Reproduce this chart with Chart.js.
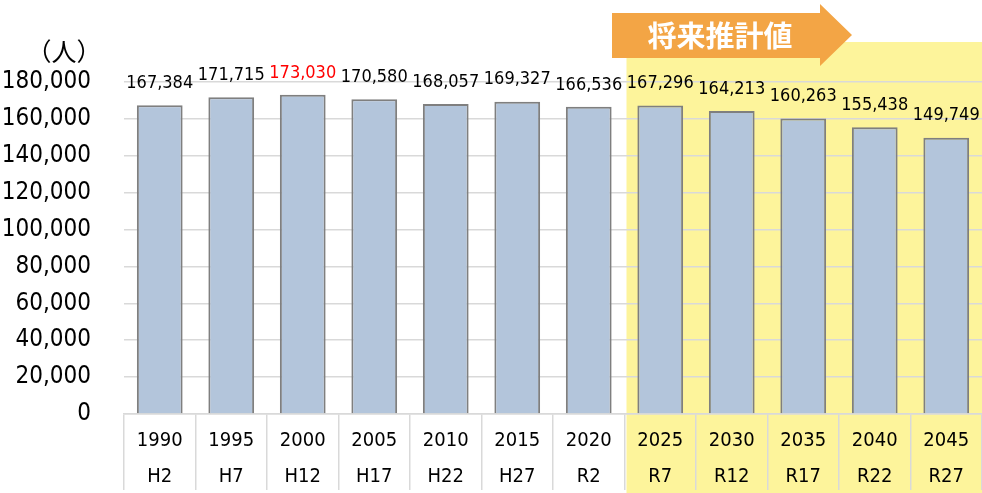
<!DOCTYPE html>
<html>
<head>
<meta charset="utf-8">
<script src="https://cdn.jsdelivr.net/npm/chart.js@4/dist/chart.umd.min.js"></script>
<style>
  html, body { margin: 0; padding: 0; background: #fff; }
  #wrap { width: 982px; height: 493px; position: relative; }
</style>
</head>
<body>
<div id="wrap"><canvas id="popChart" width="982" height="493"></canvas></div>
<script>
// 年（西暦・和暦）と人口
const years = ['1990', '1995', '2000', '2005', '2010', '2015', '2020', '2025', '2030', '2035', '2040', '2045'];
const eras = ['H2', 'H7', 'H12', 'H17', 'H22', 'H27', 'R2', 'R7', 'R12', 'R17', 'R22', 'R27'];
const population = [167384, 171715, 173030, 170580, 168057, 169327, 166536, 167296, 164213, 160263, 155438, 149749];
const peakIndex = 2;          // 最大値（赤字）
const forecastStart = 7;      // 将来推計値の開始位置

const FONT = "'DejaVu Sans Condensed', 'Liberation Sans Narrow', sans-serif";

// 将来推計値の背景と矢印
const forecastPlugin = {
    id: 'forecast',
    beforeDraw(chart) {
        const ctx = chart.ctx;
        const x = chart.scales.x;
        const left = (x.getPixelForValue(forecastStart - 1) + x.getPixelForValue(forecastStart)) / 2 + 2;
        ctx.save();
        ctx.fillStyle = '#fdf49b';
        ctx.fillRect(left, 42, chart.width - left, chart.height - 42);
        ctx.restore();
    },
    afterDraw(chart) {
        const ctx = chart.ctx;
        ctx.save();
        // 矢印
        ctx.fillStyle = '#f3a545';
        ctx.beginPath();
        ctx.moveTo(612, 13);
        ctx.lineTo(820, 13);
        ctx.lineTo(820, 4);
        ctx.lineTo(852, 35);
        ctx.lineTo(820, 66);
        ctx.lineTo(820, 58);
        ctx.lineTo(612, 58);
        ctx.closePath();
        ctx.fill();
        ctx.fillStyle = '#ffffff';
        ctx.font = "bold 29px 'Noto Sans CJK JP', sans-serif";
        ctx.textAlign = 'center';
        ctx.textBaseline = 'middle';
        ctx.fillText('将来推計値', 720, 36);
        // 単位
        ctx.fillStyle = '#000';
        ctx.font = "25px 'Noto Sans CJK JP', sans-serif";
        ctx.fillText('（人）', 64, 51);
        ctx.restore();
    }
};

// 棒の上の数値
const valueLabels = {
    id: 'valueLabels',
    afterDatasetsDraw(chart) {
        const ctx = chart.ctx;
        const meta = chart.getDatasetMeta(0);
        ctx.save();
        ctx.font = '18px ' + FONT;
        ctx.textAlign = 'center';
        ctx.textBaseline = 'middle';
        meta.data.forEach((bar, i) => {
            ctx.fillStyle = i === peakIndex ? '#ff0000' : '#000000';
            ctx.fillText(population[i].toLocaleString('en-US'), bar.x, bar.y - 22);
        });
        ctx.restore();
    }
};

new Chart(document.getElementById('popChart'), {
    type: 'bar',
    data: {
        labels: years.map((y, i) => [y, eras[i]]),
        datasets: [{
            data: population,
            backgroundColor: '#b3c5db',
            borderColor: '#7f7f7f',
            borderWidth: 2,
            categoryPercentage: 1,
            barPercentage: 0.64
        }]
    },
    options: {
        responsive: false,
        animation: false,
        layout: { padding: { top: 82, right: 0, left: 0, bottom: 0 } },
        plugins: {
            legend: { display: false },
            tooltip: { enabled: false }
        },
        scales: {
            x: {
                grid: {
                    offset: true,
                    drawOnChartArea: false,
                    drawTicks: true,
                    tickLength: 76,
                    color: '#d9d9d9',
                    lineWidth: 1.5
                },
                border: { color: '#d9d9d9', width: 1.5 },
                ticks: {
                    color: '#000',
                    padding: -67.5,
                    maxRotation: 0,
                    autoSkip: false,
                    font: { family: FONT, size: 20, lineHeight: 1.8 }
                },
                afterFit(scale) { scale.height = 79; }
            },
            y: {
                min: 0,
                max: 180000,
                grid: { color: '#d9d9d9', lineWidth: 1.5, drawTicks: false },
                border: { display: false },
                ticks: {
                    stepSize: 20000,
                    color: '#000',
                    padding: 33,
                    font: { family: FONT, size: 24 },
                    callback: v => v.toLocaleString('en-US')
                },
                afterFit(scale) { scale.width = 124; }
            }
        }
    },
    plugins: [forecastPlugin, valueLabels]
});
</script>
</body>
</html>
